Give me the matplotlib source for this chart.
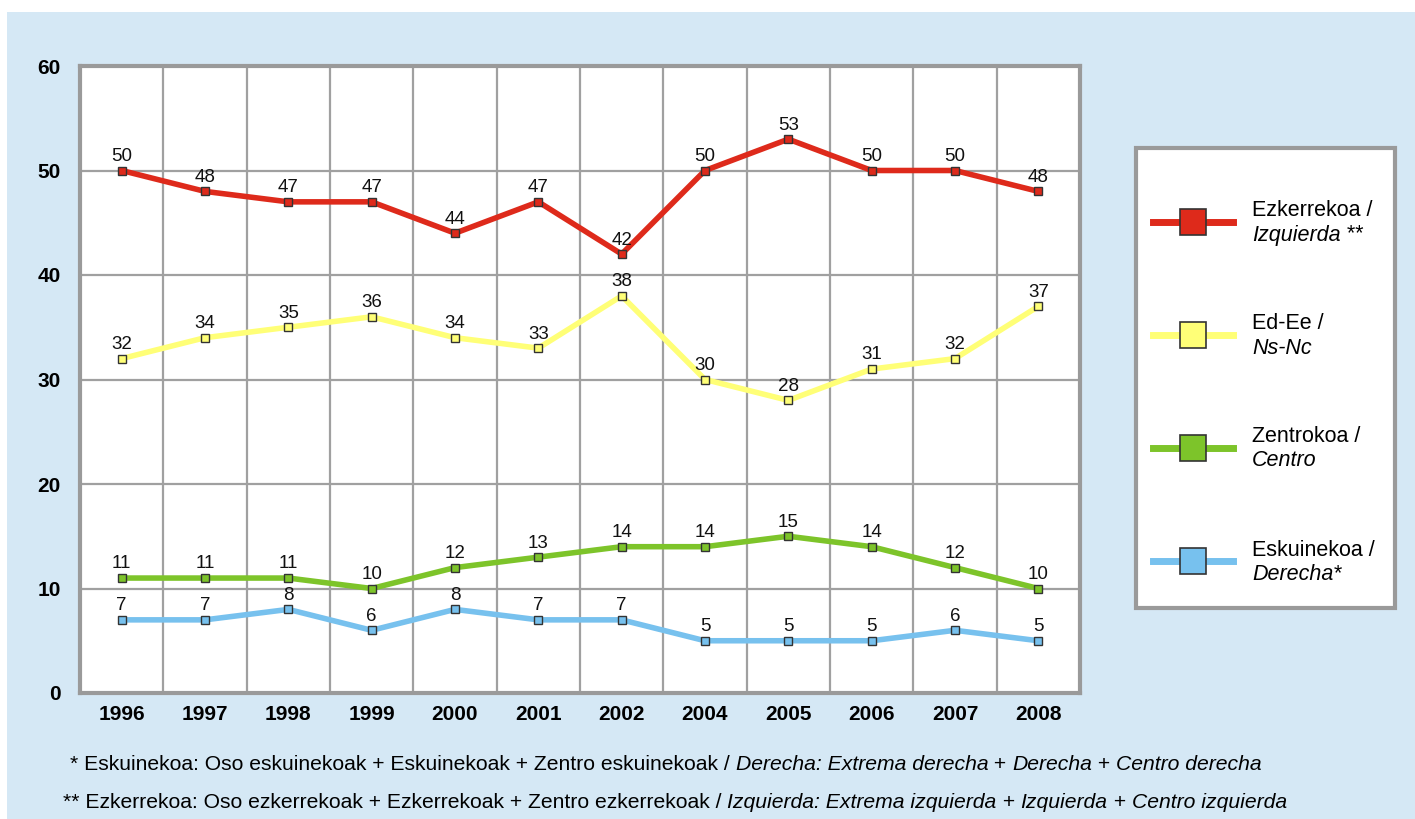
import matplotlib
matplotlib.use("Agg")
import matplotlib.pyplot as plt
from matplotlib.patches import Rectangle
from matplotlib.lines import Line2D
import numpy as np

plt.rcParams['font.family'] = ['Liberation Sans', 'DejaVu Sans']

years = ["1996", "1997", "1998", "1999", "2000", "2001", "2002", "2004", "2005", "2006", "2007", "2008"]
izquierda = [50, 48, 47, 47, 44, 47, 42, 50, 53, 50, 50, 48]
nsnc = [32, 34, 35, 36, 34, 33, 38, 30, 28, 31, 32, 37]
centro = [11, 11, 11, 10, 12, 13, 14, 14, 15, 14, 12, 10]
derecha = [7, 7, 8, 6, 8, 7, 7, 5, 5, 5, 6, 5]
yticks = [0, 10, 20, 30, 40, 50, 60]

series = [
    (izquierda, "#DE2A1B", ("Ezkerrekoa /", "Izquierda", " **")),
    (nsnc, "#FFFF77", ("Ed-Ee /", "Ns-Nc", "")),
    (centro, "#7DC42A", ("Zentrokoa /", "Centro", "")),
    (derecha, "#77C1EE", ("Eskuinekoa /", "Derecha", "*")),
]

W, H = 1415, 819
fig = plt.figure(figsize=(W / 100, H / 100), dpi=100)
fig.patch.set_facecolor("white")
# light blue panel
fig.patches.append(Rectangle((7 / W, 0), 1 - 7 / W, (H - 12) / H, transform=fig.transFigure,
                             facecolor="#D5E8F5", edgecolor="none", zorder=-10))

ax = fig.add_axes([80 / W, 1 - 693 / H, (1080 - 80) / W, (693 - 66) / H])
ax.set_zorder(1)
ax.set_facecolor("white")
x = np.arange(len(years))
ax.set_xlim(-0.5, len(years) - 0.5)
ax.set_ylim(0, 60)
ax.set_yticks(yticks)
ax.set_yticklabels([str(t) for t in yticks], fontsize=15, fontweight="bold")
ax.set_xticks(x)
ax.set_xticklabels(years, fontsize=15, fontweight="bold")
ax.tick_params(length=0)
ax.tick_params(axis="x", pad=9)
ax.tick_params(axis="y", pad=14)
for xb in np.arange(0.5, len(years) - 0.5, 1):
    ax.axvline(xb, color="#A0A0A0", lw=1.6, zorder=1)
for yt in yticks[1:-1]:
    ax.axhline(yt, color="#A0A0A0", lw=1.6, zorder=1)
for sp in ax.spines.values():
    sp.set_color("#9A9A9A")
    sp.set_linewidth(3)

for vals, col, _ in series:
    ax.plot(x, vals, color=col, lw=4, zorder=3, solid_capstyle="butt")
    ax.plot(x, vals, linestyle="none", marker="s", markersize=6, markerfacecolor=col,
            markeredgecolor="#333333", markeredgewidth=1, zorder=4)
    for xi, v in zip(x, vals):
        ax.annotate(str(v), (xi, v), xytext=(0, 4), textcoords="offset points",
                    ha="center", va="bottom", fontsize=13.5, color="#111111", zorder=5)

# legend box
lx0, ly0, lx1, ly1 = 1136, 148, 1395, 608
fig.patches.append(Rectangle((lx0 / W, 1 - ly1 / H), (lx1 - lx0) / W, (ly1 - ly0) / H,
                             transform=fig.transFigure, facecolor="white",
                             edgecolor="#9A9A9A", linewidth=3, zorder=2))
ys = [222, 335, 448, 561]
fig.canvas.draw()
r = fig.canvas.get_renderer()
for (vals, col, (t1, t2, t3)), yc in zip(series, ys):
    yf = 1 - yc / H
    fig.add_artist(Line2D([1153 / W, 1233 / W], [yf, yf], transform=fig.transFigure,
                          color=col, lw=5, zorder=3))
    fig.add_artist(Line2D([1193 / W], [yf], transform=fig.transFigure, marker="s",
                          markersize=19, markerfacecolor=col, markeredgecolor="#333333",
                          markeredgewidth=1.2, zorder=4))
    tx = 1252 / W
    fig.text(tx, 1 - (yc - 11) / H, t1, fontsize=15.5, ha="left", va="center", zorder=5)
    t = fig.text(tx, 1 - (yc + 13) / H, t2, fontsize=15.5, style="italic", ha="left",
                 va="center", zorder=5)
    if t3:
        bb = t.get_window_extent(renderer=r)
        fig.text(bb.x1 / W, 1 - (yc + 13) / H, t3, fontsize=15.5, ha="left", va="center", zorder=5)

# footnotes (mixed styles)
def mixed_line(xpix, ypix, parts):
    cur = xpix
    for txt, sty in parts:
        t = fig.text(cur / W, 1 - ypix / H, txt, fontsize=15.2, style=sty, ha="left",
                     va="center", zorder=5)
        bb = t.get_window_extent(renderer=r)
        cur = bb.x1

mixed_line(70, 765, [("* Eskuinekoa: Oso eskuinekoak + Eskuinekoak + Zentro eskuinekoak / ", "normal"),
                     ("Derecha: Extrema derecha", "italic"), (" + ", "normal"),
                     ("Derecha", "italic"), (" + ", "normal"), ("Centro derecha", "italic")])
mixed_line(63, 802, [("** Ezkerrekoa: Oso ezkerrekoak + Ezkerrekoak + Zentro ezkerrekoak / ", "normal"),
                     ("Izquierda: Extrema izquierda", "italic"), (" + ", "normal"),
                     ("Izquierda", "italic"), (" + ", "normal"), ("Centro izquierda", "italic")])

fig.savefig("out.png", dpi=100, facecolor=fig.get_facecolor())
